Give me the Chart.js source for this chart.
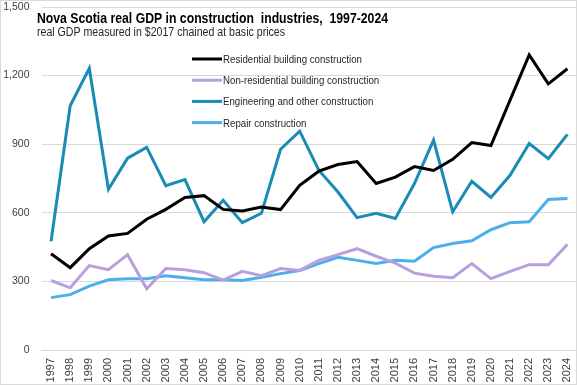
<!DOCTYPE html>
<html>
<head>
<meta charset="utf-8">
<script src="https://cdn.jsdelivr.net/npm/chart.js@4"></script>
<style>
  html, body { margin: 0; padding: 0; background: #fff; }
  #wrap { width: 577px; height: 385px; position: relative; }
</style>
</head>
<body>
<div id="wrap"><canvas id="chart" width="577" height="385"></canvas></div>
<script>
const years = ['1997','1998','1999','2000','2001','2002','2003','2004','2005','2006','2007','2008','2009','2010',
  '2011','2012','2013','2014','2015','2016','2017','2018','2019','2020','2021','2022','2023','2024'];

const residential = [421, 360, 443, 499, 510, 572, 615, 667, 675, 615, 608, 625, 614, 720,
  782, 811, 824, 728, 756, 802, 785, 834, 907, 894, 1093, 1290, 1164, 1230];
const nonResidential = [304, 272, 369, 351, 417, 268, 356, 351, 338, 306, 344, 325, 356, 348,
  392, 417, 443, 410, 380, 336, 323, 316, 378, 312, 344, 373, 373, 462];
const engineering = [475, 1068, 1232, 703, 839, 886, 719, 745, 561, 655, 557, 598, 878, 957,
  786, 691, 579, 598, 575, 728, 918, 604, 738, 667, 764, 903, 837, 943];
const repair = [229, 242, 279, 307, 312, 312, 325, 316, 307, 307, 304, 318, 334, 348,
  378, 405, 392, 378, 392, 388, 448, 466, 478, 526, 557, 561, 658, 662];

const seriesNames = ['Residential building construction', 'Non-residential building construction',
  'Engineering and other construction', 'Repair construction'];
const seriesColors = ['#000000', '#b89fdd', '#1a8bb5', '#4caeea'];

const titleText = 'Nova Scotia real GDP in construction  industries,  1997-2024';
const subtitleText = 'real GDP measured in $2017 chained at basic prices';

const sans = '"Liberation Sans", Arial, sans-serif';

// the reference uses a condensed face, so squeeze the text to its width
function squeezeText(ctx, text, x, y, font, width) {
  ctx.font = font;
  const w = ctx.measureText(text).width;
  const k = Math.min(1, width / w);
  ctx.save();
  ctx.translate(x, y);
  ctx.scale(k, 1);
  ctx.fillText(text, 0, 0);
  ctx.restore();
}

const overlay = {
  id: 'overlay',
  afterDraw(chart) {
    const ctx = chart.ctx;
    ctx.save();
    ctx.strokeStyle = '#d9d9d9';
    ctx.lineWidth = 1;
    ctx.strokeRect(0.5, 0.5, chart.width - 1, chart.height - 1);

    ctx.textBaseline = 'alphabetic';
    ctx.fillStyle = '#000';
    squeezeText(ctx, titleText, 37, 23, 'bold 15.5px ' + sans, 351);
    ctx.fillStyle = '#262626';
    squeezeText(ctx, subtitleText, 37, 36, '12.5px ' + sans, 248);

    // legend widths scale with the first label: 139 px for "Residential building construction"
    ctx.font = '11.5px ' + sans;
    const k = 139 / ctx.measureText(seriesNames[0]).width;
    chart.data.datasets.forEach((ds, i) => {
      const y = 59 + i * 21.2;
      ctx.strokeStyle = ds.borderColor;
      ctx.lineWidth = 3;
      ctx.beginPath();
      ctx.moveTo(192, y);
      ctx.lineTo(222, y);
      ctx.stroke();
      ctx.fillStyle = '#262626';
      ctx.font = '11.5px ' + sans;
      squeezeText(ctx, ds.label, 223, y + 4, '11.5px ' + sans, ctx.measureText(ds.label).width * k);
    });
    ctx.restore();
  }
};

const seriesData = [residential, nonResidential, engineering, repair];

new Chart(document.getElementById('chart'), {
  type: 'line',
  data: {
    labels: years,
    datasets: seriesData.map((d, i) => ({
      label: seriesNames[i],
      data: d,
      borderColor: seriesColors[i],
      backgroundColor: seriesColors[i],
      borderWidth: 3,
      pointRadius: 0,
      tension: 0,
      fill: false
    }))
  },
  options: {
    responsive: false,
    animation: false,
    layout: { padding: { top: 7, left: 3, right: 0, bottom: 0 } },
    plugins: {
      legend: { display: false },
      title: { display: false },
      tooltip: { enabled: false }
    },
    scales: {
      x: {
        offset: true,
        grid: { display: false, drawTicks: false },
        border: { color: '#d9d9d9' },
        afterFit(scale) {
          scale.paddingLeft = 0;
          scale.paddingRight = 0;
          scale.height = 35;
        },
        ticks: {
          color: '#404040',
          font: { family: sans, size: 11 },
          minRotation: 90,
          maxRotation: 90,
          autoSkip: false,
          padding: 8
        }
      },
      y: {
        min: 0,
        max: 1500,
        grid: { color: '#d9d9d9', drawTicks: false },
        border: { display: false },
        afterFit(scale) {
          scale.width = 38.5;
          scale.paddingTop = 0;
          scale.paddingBottom = 0;
        },
        ticks: {
          stepSize: 300,
          color: '#404040',
          font: { family: sans, size: 10.5 },
          padding: 12,
          callback: (v) => v.toLocaleString('en-US')
        }
      }
    }
  },
  plugins: [overlay]
});
</script>
</body>
</html>
